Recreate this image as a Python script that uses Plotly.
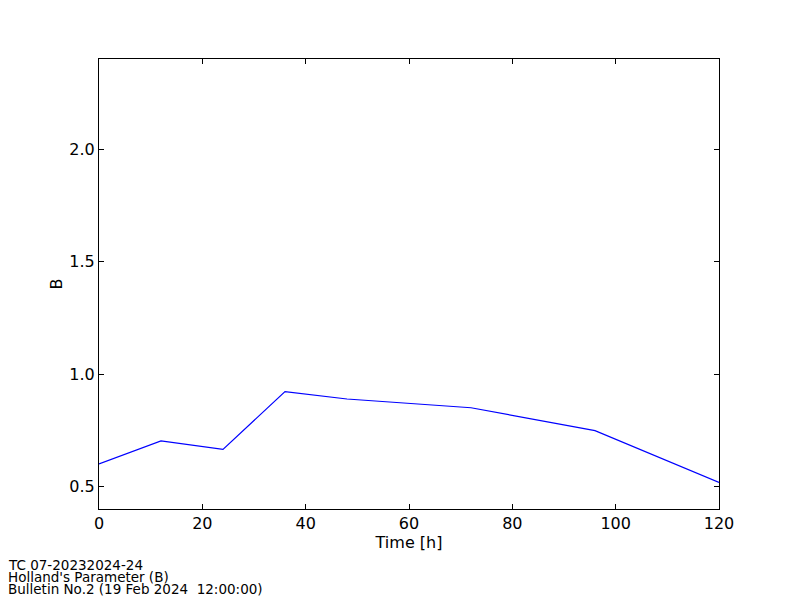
import plotly.graph_objects as go

time_h = [0, 12, 24, 36, 48, 72, 96, 120]
b_values = [0.60, 0.703, 0.665, 0.922, 0.889, 0.850, 0.748, 0.518]
x_ticks = [0, 20, 40, 60, 80, 100, 120]
y_ticks = [0.5, 1.0, 1.5, 2.0]
y_tick_labels = ["0.5", "1.0", "1.5", "2.0"]
footer_lines = ["TC 07-20232024-24", "Holland's Parameter (B)", "Bulletin No.2 (19 Feb 2024  12:00:00)"]

fig = go.Figure()
fig.add_trace(go.Scatter(x=time_h, y=b_values, mode="lines",
                         line=dict(color="#0000ff", width=1.2), showlegend=False))

font = dict(family="DejaVu Sans", size=16, color="black")
axis_common = dict(showgrid=False, zeroline=False, showline=True, linecolor="black",
                   linewidth=1, mirror="ticks", ticks="inside", ticklen=5,
                   tickcolor="black", tickwidth=1, tickfont=font)

# page body has an 8px margin, so the figure is 792x592 and offsets are reduced by 8
fig.update_layout(
    width=792, height=592,
    margin=dict(l=91, r=81, t=51, b=91),
    paper_bgcolor="white", plot_bgcolor="white",
    font=font,
    xaxis=dict(range=[0, 120], tickvals=x_ticks,
               title=dict(text="Time [h]", font=font, standoff=2), **axis_common),
    yaxis=dict(range=[0.4, 2.4], tickvals=y_ticks, ticktext=y_tick_labels,
               title=dict(text="B", font=font, standoff=2), **axis_common),
)

for i, line in enumerate(footer_lines):
    fig.add_annotation(text=line, xref="paper", yref="paper",
                       x=-93/620, y=-(565 - 509 + i*12)/450,
                       xanchor="left", yanchor="middle", showarrow=False,
                       font=dict(family="DejaVu Sans", size=13.5, color="black"))

fig.write_html("out.html")
